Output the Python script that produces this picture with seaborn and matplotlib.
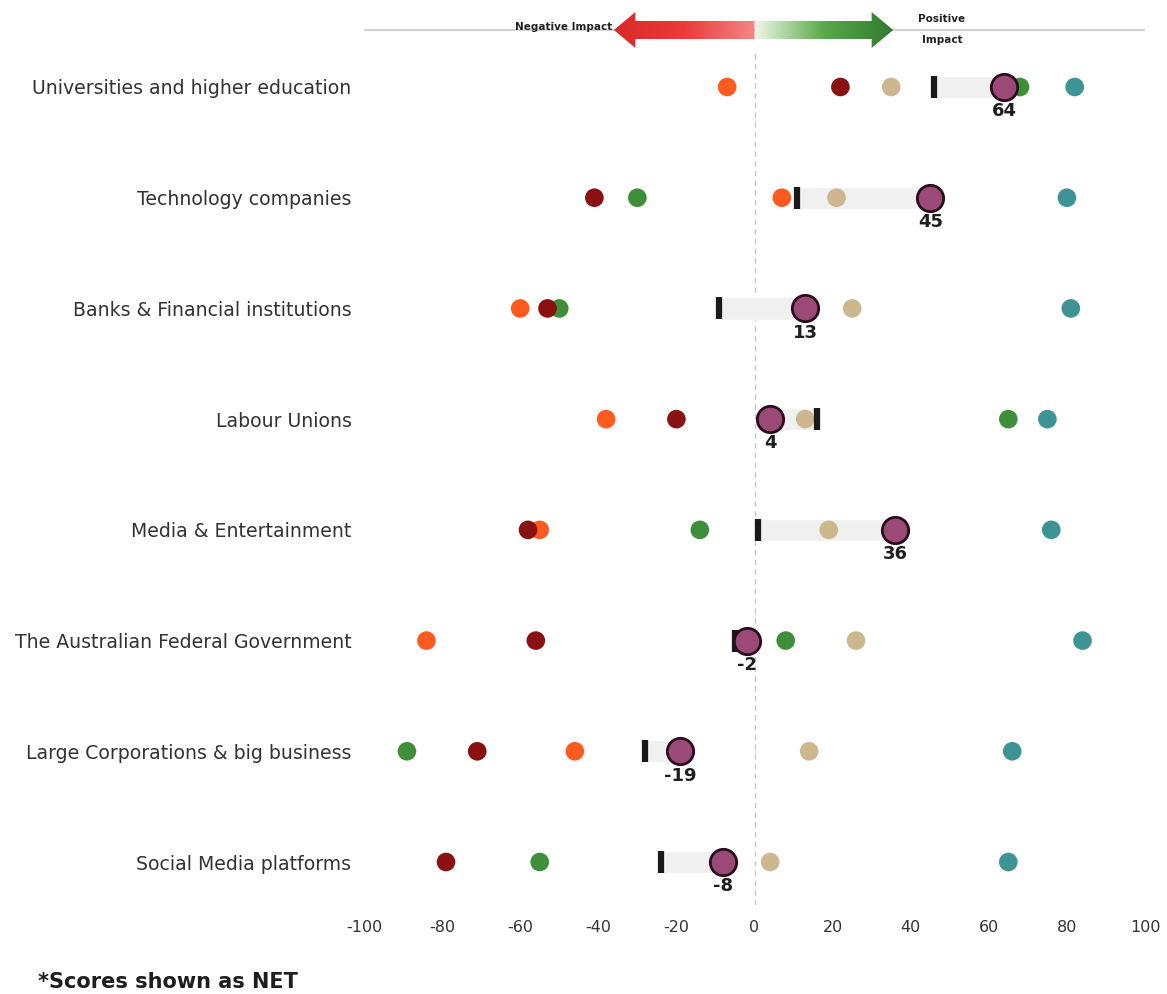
import numpy as np
import pandas as pd
import matplotlib.pyplot as plt
import seaborn as sns
from matplotlib.colors import LinearSegmentedColormap
from matplotlib.patches import Polygon

# --- data ---
categories = [
    "Universities and higher education",
    "Technology companies",
    "Banks & Financial institutions",
    "Labour Unions",
    "Media & Entertainment",
    "The Australian Federal Government",
    "Large Corporations & big business",
    "Social Media platforms",
]
orange = [-7, 7, -60, -38, -55, -84, -46, np.nan]
green = [68, -30, -50, 65, -14, 8, -89, -55]
dark_red = [22, -41, -53, -20, -58, -56, -71, -79]
tan = [35, 21, 25, 13, 19, 26, 14, 4]
teal = [82, 80, 81, 75, 76, 84, 66, 65]
previous = [46, 11, -9, 16, 1, -5, -28, -24]
net = [64, 45, 13, 4, 36, -2, -19, -8]
x_ticks = [-100, -80, -60, -40, -20, 0, 20, 40, 60, 80, 100]

series = {"orange": orange, "green": green, "dark_red": dark_red, "tan": tan, "teal": teal}
palette = {"orange": "#ff5a1f", "green": "#3f8f3a", "dark_red": "#8a1111",
           "tan": "#cdb78f", "teal": "#3e9494"}

rows = []
for name, vals in series.items():
    for i, v in enumerate(vals):
        rows.append({"group": name, "row": i, "score": v})
dots = pd.DataFrame(rows).dropna()

sns.set_style("white")
plt.rcParams["font.family"] = ["DejaVu Sans"]

W, H = 1167, 994
fig = plt.figure(figsize=(W / 100, H / 100), dpi=100)

# main axes: x -100..100 maps to px 364..1145, rows at px 87..862
px_left, px_right, px_top, px_bot = 364, 1145, 50, 905
ax = fig.add_axes([px_left / W, 1 - px_bot / H, (px_right - px_left) / W, (px_bot - px_top) / H])
step = (862 - 87) / 7
ax.set_xlim(-100, 100)
ax.set_ylim((px_bot - 87) / step, (px_top - 87) / step)

# dashed zero line
ax.axvline(0, color="#c8c8c8", ls=(0, (4, 3)), lw=1, zorder=0)

# grey bars between previous and current net
for i, (p, n) in enumerate(zip(previous, net)):
    ax.barh(i, abs(n - p), left=min(p, n), height=0.2, color="#f0f0f0", zorder=1)

sns.scatterplot(data=dots, x="score", y="row", hue="group", palette=palette,
                s=180, linewidth=0, legend=False, ax=ax, zorder=3)

# previous score markers
ax.scatter(previous, range(len(previous)), marker="|", s=260, linewidths=4.5,
           color="#1a1a1a", zorder=4)

# current net score
ax.scatter(net, range(len(net)), s=360, color="#9b4a78", edgecolor="#2a0d1d",
           linewidths=2, zorder=5)
for i, n in enumerate(net):
    ax.annotate(f"{n}", (n, i), xytext=(0, -17.5), textcoords="offset points",
                ha="center", va="center", fontsize=13, fontweight="bold", color="#1e1e1e")

ax.set_xticks(x_ticks)
ax.set_xticklabels([str(t) for t in x_ticks], fontsize=11.5, color="#333333")
ax.set_yticks(range(len(categories)))
ax.set_yticklabels(categories, fontsize=13.6, color="#333333")
ax.tick_params(axis="both", length=0)
ax.tick_params(axis="y", pad=9)
ax.tick_params(axis="x", pad=11)
ax.set_xlabel("")
ax.set_ylabel("")
sns.despine(ax=ax, left=True, bottom=True)

# header with impact arrows
hx = fig.add_axes([px_left / W, 1 - 55 / H, (px_right - px_left) / W, 50 / H])
hx.set_xlim(-100, 100)
hx.set_ylim(-25, 25)
hx.axis("off")
hx.axhline(0, color="#d4d4d4", lw=1.6, zorder=0)

def gradient_arrow(x_tip, cmap):
    sign = np.sign(x_tip)
    head = x_tip - sign * 5.5
    pts = [(0, -9), (head, -9), (head, -18), (x_tip, 0), (head, 18), (head, 9), (0, 9)]
    poly = Polygon(pts, closed=True, facecolor="none", edgecolor="none")
    hx.add_patch(poly)
    grad = np.linspace(0, 1, 256).reshape(1, -1)
    im = hx.imshow(grad, cmap=cmap, aspect="auto",
                   extent=[min(0, x_tip), max(0, x_tip), -18, 18], zorder=2)
    im.set_clip_path(poly)

red_cmap = LinearSegmentedColormap.from_list("red", ["#d92a2a", "#ea3b3b", "#f58585"])
green_cmap = LinearSegmentedColormap.from_list("green", ["#eef7e6", "#5aa84a", "#2f7a2f"])
gradient_arrow(-36, red_cmap)
gradient_arrow(35.5, green_cmap)
hx.set_xlim(-100, 100)
hx.set_ylim(-25, 25)

hx.text(-36.5, 3, "Negative Impact", ha="right", va="center", fontsize=7.5,
        fontweight="bold", color="#222222")
hx.text(48, 11, "Positive", ha="center", va="center", fontsize=7.5,
        fontweight="bold", color="#222222")
hx.text(48, -10, "Impact", ha="center", va="center", fontsize=7.5,
        fontweight="bold", color="#222222")

fig.text(38 / W, 1 - 982 / H, "*Scores shown as NET", ha="left", va="center",
         fontsize=15, fontweight="semibold", color="#1e1e1e")

fig.savefig("out.png", dpi=100, facecolor="white")
